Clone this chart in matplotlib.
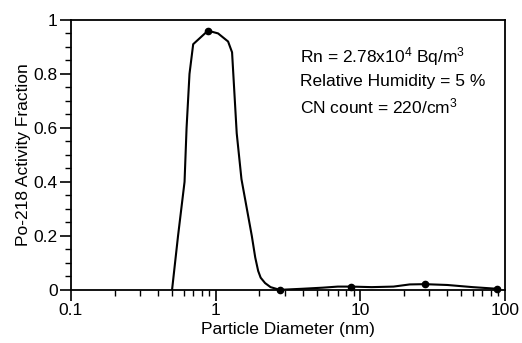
# Po-218 activity size distribution
import matplotlib
matplotlib.use('Agg')
import matplotlib.pyplot as plt
from matplotlib.ticker import FixedLocator, LogLocator, NullFormatter

plt.rcParams['font.family'] = ['Liberation Sans', 'DejaVu Sans']
plt.rcParams['mathtext.default'] = 'regular'

# curve
diam = [0.50, 0.55, 0.61, 0.63, 0.66, 0.70, 0.885, 1.04, 1.22, 1.30, 1.40,
        1.51, 1.78, 1.88, 1.97, 2.05, 2.2, 2.4, 2.78, 4.0, 5.5, 7.0, 8.7,
        12, 17, 22, 27.9, 40, 60, 88]
frac = [0.0, 0.2, 0.4, 0.6, 0.8, 0.91, 0.96, 0.95, 0.92, 0.88, 0.58,
        0.41, 0.2, 0.12, 0.07, 0.045, 0.025, 0.01, 0.0, 0.004, 0.008, 0.012, 0.012,
        0.01, 0.012, 0.02, 0.021, 0.018, 0.01, 0.004]

# measured points
pt_diam = [0.885, 2.78, 8.7, 27.9, 88]
pt_frac = [0.96, 0.0, 0.012, 0.021, 0.004]

yticks = [0, 0.2, 0.4, 0.6, 0.8, 1]
ylabels = ['0', '0.2', '0.4', '0.6', '0.8', '1']
xticks = [0.1, 1, 10, 100]
xlabels = ['0.1', '1', '10', '100']

fig = plt.figure(figsize=(5.22, 3.43), dpi=100)
ax = fig.add_axes([0.136, 0.155, 0.831, 0.787])

ax.plot(diam, frac, color='black', lw=1.5)
ax.plot(pt_diam, pt_frac, 'o', color='black', ms=4.5, clip_on=False)

ax.set_xscale('log')
ax.set_xlim(0.1, 100)
ax.set_ylim(0, 1)

ax.set_xticks(xticks)
ax.set_xticklabels(xlabels)
ax.xaxis.set_minor_locator(LogLocator(base=10, subs=range(2, 10)))
ax.xaxis.set_minor_formatter(NullFormatter())
ax.set_yticks(yticks)
ax.set_yticklabels(ylabels)
ax.yaxis.set_minor_locator(FixedLocator([i * 0.05 for i in range(21)]))

ax.tick_params(which='major', direction='out', length=8, width=1.2, labelsize=12.5, pad=1.5)
ax.tick_params(which='minor', direction='out', length=4, width=1)

for s in ax.spines.values():
    s.set_linewidth(1.3)

ax.set_xlabel('Particle Diameter (nm)', fontsize=12.5, labelpad=3)
ax.set_ylabel('Po-218 Activity Fraction', fontsize=12.5, labelpad=2)

ax.text(0.528, 0.863, 'Rn = 2.78x10$^4$ Bq/m$^3$', transform=ax.transAxes,
        fontsize=12.5, va='center')
ax.text(0.528, 0.77, 'Relative Humidity = 5 %', transform=ax.transAxes,
        fontsize=12.5, va='center')
ax.text(0.528, 0.678, 'CN count = 220/cm$^3$', transform=ax.transAxes,
        fontsize=12.5, va='center')

fig.savefig('out.png', dpi=100)
